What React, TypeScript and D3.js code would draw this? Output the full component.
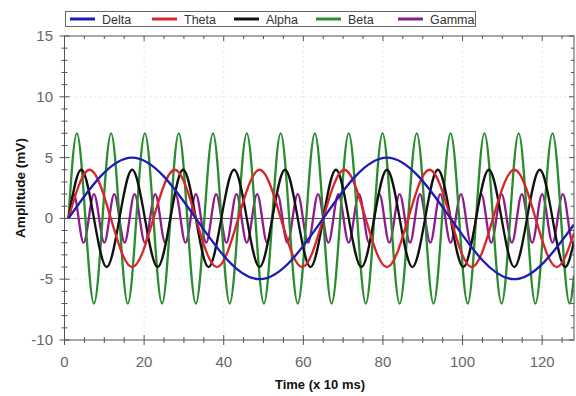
import React from "react";
import * as d3 from "d3";

// turning points: [time, amplitude]
const delta: [number, number][] = [[1, 0], [17, 5], [49, -5], [81, 5], [113, -5], [128, -0.5]];
const theta: [number, number][] = [
  [1, 0], [6.3, 4], [17, -4], [27.7, 4], [38.3, -4], [49, 4], [59.7, -4], [70.3, 4],
  [81, -4], [91.7, 4], [102.3, -4], [113, 4], [123.7, -4], [128, -1.2],
];
const alpha: [number, number][] = [
  [1, 0], [4.2, 4], [10.6, -4], [17, 4], [23.4, -4], [29.8, 4], [36.2, -4], [42.6, 4],
  [49, -4], [55.4, 4], [61.8, -4], [68.2, 4], [74.6, -4], [81, 4], [87.4, -4], [93.8, 4],
  [100.2, -4], [106.6, 4], [113, -4], [119.4, 4], [125.8, -4], [128, -1.9],
];
const beta: [number, number][] = [
  [1, 0], [3.1, 7], [7.4, -7], [11.7, 7], [15.9, -7], [20.2, 7], [24.5, -7], [28.7, 7],
  [33, -7], [37.3, 7], [41.5, -7], [45.8, 7], [50.1, -7], [54.3, 7], [58.6, -7], [62.9, 7],
  [67.1, -7], [71.4, 7], [75.7, -7], [79.9, 7], [84.2, -7], [88.5, 7], [92.7, -7], [97, 7],
  [101.3, -7], [105.5, 7], [109.8, -7], [114.1, 7], [118.3, -7], [122.6, 7], [126.9, -7], [128, -4.7],
];
const gamma: [number, number][] = [
  [1, 0], [2.3, 2], [4.8, -2], [7.4, 2], [10, -2], [12.5, 2], [15.1, -2], [17.6, 2], [20.2, -2],
  [22.8, 2], [25.3, -2], [27.9, 2], [30.4, -2], [33, 2], [35.6, -2], [38.1, 2], [40.7, -2],
  [43.2, 2], [45.8, -2], [48.4, 2], [50.9, -2], [53.5, 2], [56, -2], [58.6, 2], [61.2, -2],
  [63.7, 2], [66.3, -2], [68.8, 2], [71.4, -2], [74, 2], [76.5, -2], [79.1, 2], [81.6, -2],
  [84.2, 2], [86.8, -2], [89.3, 2], [91.9, -2], [94.4, 2], [97, -2], [99.6, 2], [102.1, -2],
  [104.7, 2], [107.2, -2], [109.8, 2], [112.4, -2], [114.9, 2], [117.5, -2], [120, 2],
  [122.6, -2], [125.2, 2], [127.7, -2], [128, -1.9],
];

const seriesNames = ["Delta", "Theta", "Alpha", "Beta", "Gamma"];
const seriesData = [delta, theta, alpha, beta, gamma];
const seriesColors = ["#1d1db4", "#d8262a", "#111111", "#2a8c2e", "#8c1c8c"];

const xTicks = [0, 20, 40, 60, 80, 100, 120];
const yTicks = [-10, -5, 0, 5, 10, 15];

const width = 576;
const height = 396;
const plot = { left: 64.5, right: 574, top: 36, bottom: 340 };

export default function App() {
  const x = d3.scaleLinear().domain([0, 128]).range([plot.left, plot.right]);
  const y = d3.scaleLinear().domain([-10, 15]).range([plot.bottom, plot.top]);

  const line = d3
    .line<[number, number]>()
    .x((d) => x(d[0]))
    .y((d) => y(d[1]))
    .curve(d3.curveMonotoneX);

  const xMinor = d3.range(0, 129, 5);
  const yMinor = d3.range(-10, 16, 1);
  const frame = "#555";
  const tickFont = "'Liberation Sans Narrow', 'Liberation Sans', Arial, sans-serif";

  // draw Gamma first so Delta ends on top
  const order = [4, 3, 2, 1, 0];

  return (
    <svg
      width={width}
      height={height}
      style={{ position: "absolute", left: 0, top: 0, background: "#fff" }}
    >
      <defs>
        <clipPath id="plotClip">
          <rect x={plot.left} y={plot.top} width={plot.right - plot.left} height={plot.bottom - plot.top} />
        </clipPath>
      </defs>

      {/* grid */}
      <g stroke="#e4e4e4" strokeDasharray="2,3" strokeWidth={1}>
        {xTicks.filter((t) => t > 0).map((t) => (
          <line key={"gx" + t} x1={x(t)} x2={x(t)} y1={plot.top} y2={plot.bottom} />
        ))}
        {yTicks.filter((t) => t !== 0 && t > -10 && t < 15).map((t) => (
          <line key={"gy" + t} x1={plot.left} x2={plot.right} y1={y(t)} y2={y(t)} />
        ))}
      </g>

      {/* zero line */}
      <line x1={plot.left} x2={plot.right} y1={y(0)} y2={y(0)} stroke="#444" strokeWidth={1} />

      {/* series */}
      <g clipPath="url(#plotClip)" fill="none" strokeWidth={2.3} strokeLinejoin="round">
        {order.map((i) => (
          <path key={seriesNames[i]} d={line(seriesData[i]) || ""} stroke={seriesColors[i]} />
        ))}
      </g>

      {/* frame */}
      <rect
        x={plot.left}
        y={plot.top}
        width={plot.right - plot.left}
        height={plot.bottom - plot.top}
        fill="none"
        stroke={frame}
        strokeWidth={1}
      />

      {/* bottom + top ticks */}
      <g stroke={frame} strokeWidth={1}>
        {xMinor.map((t) => {
          const major = t % 20 === 0;
          return (
            <g key={"xt" + t}>
              <line x1={x(t)} x2={x(t)} y1={plot.bottom - (major ? 5 : 3)} y2={plot.bottom + (major ? 5 : 3)} />
              <line x1={x(t)} x2={x(t)} y1={plot.top} y2={plot.top + (major ? 5 : 3)} />
            </g>
          );
        })}
        {yMinor.map((t) => {
          const major = t % 5 === 0;
          return (
            <g key={"yt" + t}>
              <line x1={plot.left - (major ? 5 : 3)} x2={plot.left + (major ? 5 : 3)} y1={y(t)} y2={y(t)} />
              <line x1={plot.right - (major ? 5 : 3)} x2={plot.right} y1={y(t)} y2={y(t)} />
            </g>
          );
        })}
      </g>

      {/* tick labels */}
      <g fontFamily={tickFont} fontSize={15} fill="#666">
        {xTicks.map((t) => (
          <text key={"xl" + t} x={x(t)} y={367} textAnchor="middle">
            {t}
          </text>
        ))}
        {yTicks.map((t) => (
          <text key={"yl" + t} x={53} y={y(t) + 5} textAnchor="end">
            {t}
          </text>
        ))}
      </g>

      {/* axis titles */}
      <text
        x={320}
        y={389}
        textAnchor="middle"
        fontFamily="'Liberation Sans', Arial, sans-serif"
        fontWeight="bold"
        fontSize={13}
        fill="#111"
      >
        Time (x 10 ms)
      </text>
      <text
        transform={`translate(25, ${(plot.top + plot.bottom) / 2}) rotate(-90)`}
        textAnchor="middle"
        fontFamily="'Liberation Sans', Arial, sans-serif"
        fontWeight="bold"
        fontSize={13.5}
        fill="#111"
      >
        Amplitude (mV)
      </text>

      {/* legend */}
      <rect x={65.5} y={11.5} width={410} height={15} fill="#fff" stroke="#666" strokeWidth={1} />
      {seriesNames.map((name, i) => {
        const lx = 70 + i * 82;
        return (
          <g key={"lg" + name}>
            <line x1={lx} x2={lx + 25} y1={19} y2={19} stroke={seriesColors[i]} strokeWidth={3} />
            <text x={lx + 32} y={23.5} fontFamily={tickFont} fontSize={12.5} fill="#333">
              {name}
            </text>
          </g>
        );
      })}
    </svg>
  );
}
